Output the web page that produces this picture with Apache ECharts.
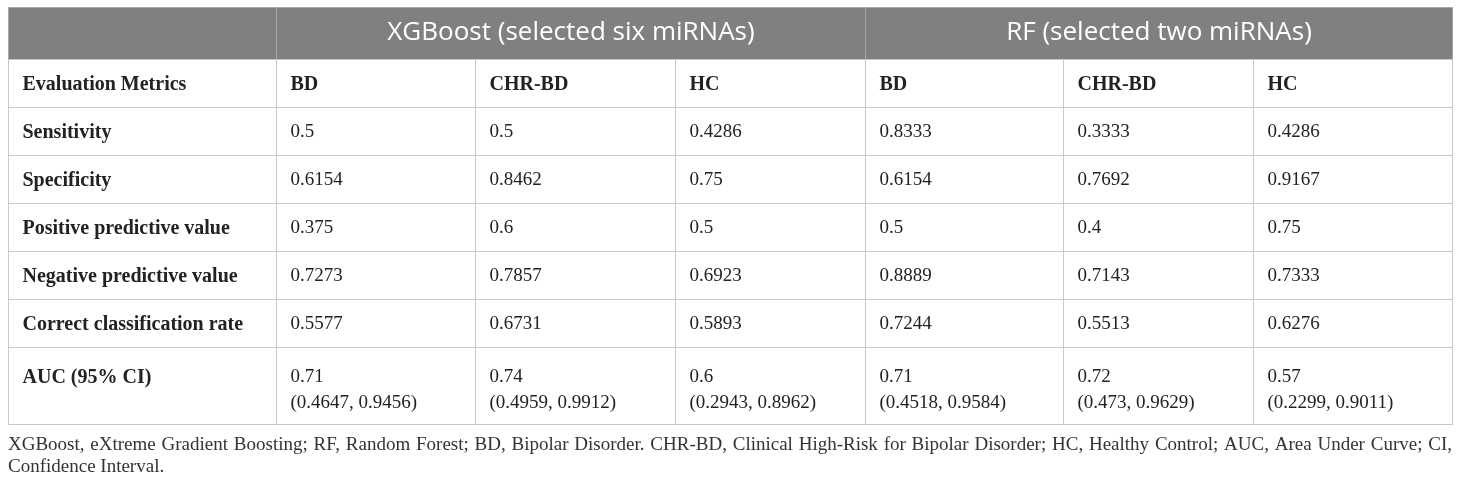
<!DOCTYPE html>
<html><head><meta charset="utf-8">
<script src="https://cdn.jsdelivr.net/npm/echarts@6/dist/echarts.min.js"></script>
<style>html,body{margin:0;padding:0;background:#fff}#c{width:1460px;height:482px}</style>
</head><body><div id="c"></div>
<script>
// ---- data ----
const models = ['XGBoost (selected six miRNAs)', 'RF (selected two miRNAs)'];
const classes = ['BD', 'CHR-BD', 'HC'];
const metricHeader = 'Evaluation Metrics';
const metrics = ['Sensitivity', 'Specificity', 'Positive predictive value', 'Negative predictive value', 'Correct classification rate', 'AUC (95% CI)'];
const xgbBD  = [0.5, 0.6154, 0.375, 0.7273, 0.5577, 0.71];
const xgbCHR = [0.5, 0.8462, 0.6, 0.7857, 0.6731, 0.74];
const xgbHC  = [0.4286, 0.75, 0.5, 0.6923, 0.5893, 0.6];
const rfBD   = [0.8333, 0.6154, 0.5, 0.8889, 0.7244, 0.71];
const rfCHR  = [0.3333, 0.7692, 0.4, 0.7143, 0.5513, 0.72];
const rfHC   = [0.4286, 0.9167, 0.75, 0.7333, 0.6276, 0.57];
const aucCiLower = [0.4647, 0.4959, 0.2943, 0.4518, 0.473, 0.2299];
const aucCiUpper = [0.9456, 0.9912, 0.8962, 0.9584, 0.9629, 0.9011];
const footnoteLines = [
  'XGBoost, eXtreme Gradient Boosting; RF, Random Forest; BD, Bipolar Disorder. CHR-BD, Clinical High-Risk for Bipolar Disorder; HC, Healthy Control; AUC, Area Under Curve; CI,',
  'Confidence Interval.'
];

// ---- layout (relative widths / heights) ----
const colW = [268, 199, 200, 190, 198, 190, 199];
const rowH = [52, 48, 48, 48, 48, 48, 48, 77];
const colEdge = [0]; colW.forEach(w => colEdge.push(colEdge[colEdge.length - 1] + w));
const rowEdge = [0]; rowH.forEach(h => rowEdge.push(rowEdge[rowEdge.length - 1] + h));

// ---- build cells ----
const columns = [xgbBD, xgbCHR, xgbHC, rfBD, rfCHR, rfHC];
const cells = [];
cells.push({ v: [0, 1, 0, 1], kind: 'head', text: '' });
cells.push({ v: [1, 4, 0, 1], kind: 'head', text: models[0] });
cells.push({ v: [4, 7, 0, 1], kind: 'head', text: models[1] });
cells.push({ v: [0, 1, 1, 2], kind: 'bold', text: metricHeader });
for (let m = 0; m < 2; m++) classes.forEach((c, i) => {
  const col = 1 + m * 3 + i;
  cells.push({ v: [col, col + 1, 1, 2], kind: 'bold', text: c });
});
metrics.forEach((name, r) => {
  const row = r + 2;
  const isAuc = r === metrics.length - 1;
  cells.push({ v: [0, 1, row, row + 1], kind: 'bold', text: name, multi: isAuc });
  columns.forEach((arr, ci) => {
    let t = String(arr[r]);
    if (isAuc) t += '\n(' + aucCiLower[ci] + ', ' + aucCiUpper[ci] + ')';
    cells.push({ v: [ci + 1, ci + 2, row, row + 1], kind: 'norm', text: t, multi: isAuc });
  });
});

const serif = '"Liberation Serif", "Times New Roman", serif';
const footFont = '19px ' + serif;

// ---- justified footnote (first line stretched to table width) ----
const tableLeft = 8, tableWidth = 1444;
const mctx = document.createElement('canvas').getContext('2d');
mctx.font = footFont;
const footGraphics = [];
(function () {
  const words = footnoteLines[0].split(' ');
  const widths = words.map(w => mctx.measureText(w).width);
  const total = widths.reduce((a, b) => a + b, 0);
  const gap = (tableWidth - total) / (words.length - 1);
  let x = tableLeft;
  words.forEach((w, i) => {
    footGraphics.push({ type: 'text', x: x, y: 445, style: { text: w, font: footFont, fill: '#333', verticalAlign: 'middle', align: 'left' } });
    x += widths[i] + gap;
  });
  footGraphics.push({ type: 'text', x: tableLeft, y: 467, style: { text: footnoteLines[1], font: footFont, fill: '#333', verticalAlign: 'middle', align: 'left' } });
})();

const chart = echarts.init(document.getElementById('c'), null, { renderer: 'canvas' });
chart.setOption({
  animation: false,
  grid: { left: tableLeft, top: 7, width: tableWidth, height: 417 },
  xAxis: { type: 'value', min: 0, max: colEdge[colEdge.length - 1], show: false },
  yAxis: { type: 'value', min: 0, max: rowEdge[rowEdge.length - 1], inverse: true, show: false },
  graphic: footGraphics,
  series: [{
    type: 'custom',
    coordinateSystem: 'cartesian2d',
    data: cells.map(c => c.v),
    renderItem: function (params, api) {
      const cell = cells[params.dataIndex];
      const p0 = api.coord([colEdge[api.value(0)], rowEdge[api.value(2)]]);
      const p1 = api.coord([colEdge[api.value(1)], rowEdge[api.value(3)]]);
      const x0 = Math.round(p0[0]) + 0.5, y0 = Math.round(p0[1]) + 0.5;
      const x1 = Math.round(p1[0]) + 0.5, y1 = Math.round(p1[1]) + 0.5;
      const children = [{
        type: 'rect',
        shape: { x: x0, y: y0, width: x1 - x0, height: y1 - y0 },
        style: { fill: cell.kind === 'head' ? '#7f807f' : '#fff', stroke: cell.kind === 'head' ? '#a6a6a6' : '#c8c8c8', lineWidth: 1 }
      }];
      if (cell.text) {
        if (cell.kind === 'head') {
          children.push({
            type: 'text',
            style: { x: (x0 + x1) / 2, y: (y0 + y1) / 2 - 1, text: cell.text, font: '26px "Open Sans", sans-serif', fill: '#fff', align: 'center', verticalAlign: 'middle' }
          });
        } else {
          const font = (cell.kind === 'bold' ? 'bold 20px ' : '19px ') + serif;
          children.push({
            type: 'text',
            style: cell.multi
              ? { x: x0 + 14, y: y0 + 17, text: cell.text, font: font, fill: '#222', align: 'left', verticalAlign: 'top', lineHeight: 26 }
              : { x: x0 + 14, y: (y0 + y1) / 2 + 1, text: cell.text, font: font, fill: '#222', align: 'left', verticalAlign: 'middle' }
          });
        }
      }
      return { type: 'group', children: children };
    }
  }]
});
</script>
</body></html>
